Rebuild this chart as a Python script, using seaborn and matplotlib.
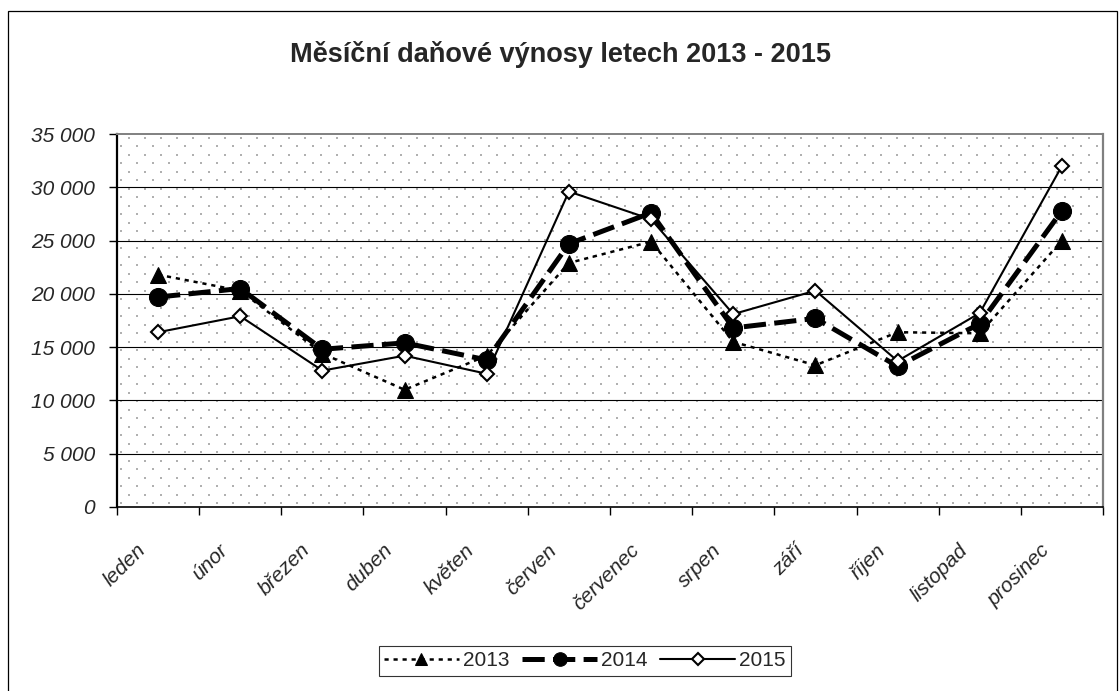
import numpy as np
import matplotlib
matplotlib.use('Agg')
import matplotlib.pyplot as plt
import matplotlib.transforms as mtransforms
import seaborn as sns
from matplotlib.patches import Rectangle
from matplotlib.ticker import FuncFormatter

# data
months = ['leden', 'únor', 'březen', 'duben', 'květen', 'červen',
          'červenec', 'srpen', 'září', 'říjen', 'listopad', 'prosinec']
vynosy_2013 = [21800, 20300, 14400, 11000, 14200, 22900, 24900, 15500, 13300, 16400, 16300, 25000]
vynosy_2014 = [19700, 20500, 14800, 15400, 13800, 24700, 27600, 16800, 17700, 13200, 17200, 27800]
vynosy_2015 = [16400, 17900, 12800, 14200, 12500, 29600, 27000, 18100, 20300, 13700, 18200, 32000]
years = ['2013', '2014', '2015']
y_ticks = [0, 5000, 10000, 15000, 20000, 25000, 30000, 35000]

sns.set_style('white')
plt.rcParams['font.family'] = ['Liberation Sans', 'DejaVu Sans']
plt.rcParams['lines.scale_dashes'] = False

fig = plt.figure(figsize=(11.2, 6.91), dpi=100)
ax = fig.add_axes([117/1120, 1 - 507/691, (1103 - 117)/1120, (507 - 134)/691])

# staggered dot pattern of the plot area (pixels -> axes fraction)
W, H = 1103 - 117, 507 - 134
px, py = [], []
for k, yrow in enumerate(np.arange(4, H, 8.5)):
    xs = np.arange(4 + (8 if k % 2 else 0), W, 16)
    px.extend(xs / W)
    py.extend([yrow / H] * len(xs))
ax.scatter(px, py, transform=ax.transAxes, s=2.0, marker='s',
           color='#b0b0b0', linewidths=0, antialiased=False, zorder=0)

# series
sns.lineplot(x=months, y=vynosy_2013, ax=ax, color='black', lw=1.8, marker='^',
             markersize=11, markerfacecolor='black', markeredgecolor='black',
             label=years[0], zorder=3)
sns.lineplot(x=months, y=vynosy_2014, ax=ax, color='black', lw=3.6, marker='o',
             markersize=13, markerfacecolor='black', markeredgecolor='black',
             label=years[1], zorder=4)
sns.lineplot(x=months, y=vynosy_2015, ax=ax, color='black', lw=1.5, marker='D',
             markersize=7.5, markerfacecolor='white', markeredgecolor='black',
             markeredgewidth=1.5, label=years[2], zorder=5)
ax.lines[0].set_dashes((3, 3.5))
ax.lines[1].set_dashes((16, 6))

for y in y_ticks[1:-1]:
    ax.axhline(y, color='black', lw=0.8, zorder=1)

ax.set_ylim(0, 35000)
ax.set_xlim(-0.5, 11.5)
ax.set_yticks(y_ticks)
ax.yaxis.set_major_formatter(FuncFormatter(lambda v, p: f'{int(v):,}'.replace(',', ' ')))
ax.set_xticks(range(12))
ax.set_xticklabels(months, rotation=45, ha='right', va='center', rotation_mode='anchor')
ax.set_xticks(np.arange(-0.5, 12, 1), minor=True)
ax.tick_params(axis='x', which='major', length=0, pad=29, labelsize=15)
ax.tick_params(axis='x', which='minor', length=6, width=1, color='black', direction='out', bottom=True)
ax.tick_params(axis='y', length=6, width=1, color='black', direction='out', left=True, labelsize=15, pad=10)
shift = mtransforms.ScaledTranslation(-15/100, 0, fig.dpi_scale_trans)
for lab in ax.get_xticklabels():
    lab.set_style('italic')
    lab.set_transform(lab.get_transform() + shift)
for lab in ax.get_yticklabels():
    lab.set_style('italic')
ax.set_xlabel('')
ax.set_ylabel('')

ax.spines['left'].set_color('black')
ax.spines['left'].set_linewidth(1.6)
ax.spines['bottom'].set_color('black')
ax.spines['bottom'].set_linewidth(1.2)
ax.spines['top'].set_color('#808080')
ax.spines['top'].set_linewidth(1.4)
ax.spines['right'].set_color('#808080')
ax.spines['right'].set_linewidth(1.6)

handles, labels = ax.get_legend_handles_labels()
ax.get_legend().remove()
leg = fig.legend(handles, labels, loc='center', bbox_to_anchor=(585/1120, 1 - 661/691),
                 ncol=3, frameon=True, fancybox=False, edgecolor='black', fontsize=15,
                 handlelength=3.6, handletextpad=0.2, columnspacing=0.6,
                 borderpad=0.25, markerscale=0.75)
leg.get_frame().set_linewidth(0.8)

fig.text(0.5, 1 - 55/691, 'Měsíční daňové výnosy letech 2013 - 2015',
         ha='center', va='center', fontsize=19.5, fontweight='bold')

fig.patches.append(Rectangle((8/1120, -0.05), (1117 - 8)/1120, 1.05 - 11/691,
                             transform=fig.transFigure, fill=False,
                             edgecolor='black', lw=0.9))

fig.savefig('out.png', dpi=100)
